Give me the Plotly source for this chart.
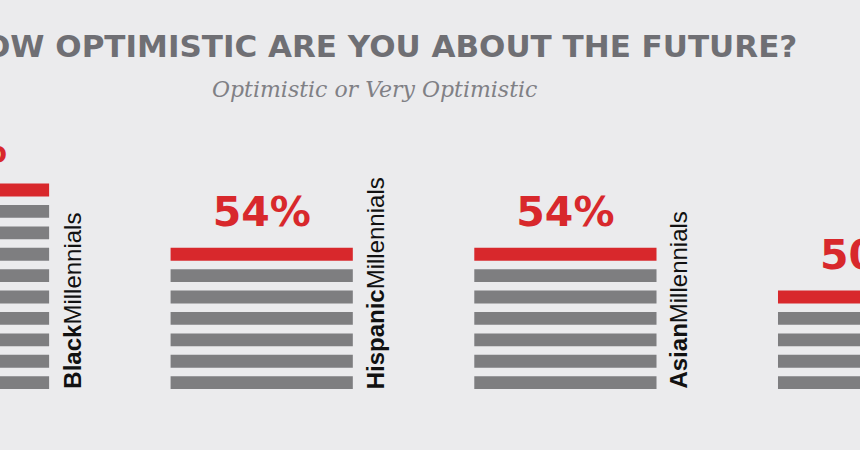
import plotly.graph_objects as go

# ---- data ----
groups = ["Black", "Hispanic", "Asian", "White"]
group_pos = [0, 1, 2, 3]
values = [64, 54, 54, 50]          # % optimistic or very optimistic (Black value cut off in reference)
bar_counts = [10, 7, 7, 5]         # number of stacked strips in each icon column
label_suffix = "Millennials"

title_text = "HOW OPTIMISTIC ARE YOU ABOUT THE FUTURE?"
subtitle_text = "Optimistic or Very Optimistic"

RED = "#d8282c"
GRAY = "#7e7e80"
BG = "#ebebed"
BAR_W = 0.6
BAR_H = 0.6
LABEL_GAP = 0.42

X0 = 0.1383
fig = go.Figure()

# gray strips
gx, gbase = [], []
for p, n in zip(group_pos, bar_counts):
    for k in range(n - 1):
        gx.append(p)
        gbase.append(k)
fig.add_trace(go.Bar(x=gx, y=[BAR_H] * len(gx), base=gbase, width=BAR_W,
                     marker=dict(color=GRAY, line=dict(width=0)),
                     hoverinfo="skip", showlegend=False))
# red top strip
fig.add_trace(go.Bar(x=group_pos, y=[BAR_H] * len(group_pos),
                     base=[n - 1 for n in bar_counts], width=BAR_W,
                     marker=dict(color=RED, line=dict(width=0)),
                     hoverinfo="skip", showlegend=False))
# invisible spacer bar carrying the percentage labels above each column
fig.add_trace(go.Bar(x=group_pos, y=[LABEL_GAP] * len(group_pos),
                     base=[n - 1 + BAR_H for n in bar_counts], width=BAR_W,
                     marker=dict(color="rgba(0,0,0,0)", line=dict(width=0)),
                     text=[f"<b>{v}%</b>" for v in values],
                     textposition="outside", constraintext="none",
                     outsidetextfont=dict(family="DejaVu Sans", size=41, color=RED),
                     hoverinfo="skip", showlegend=False))

annotations = []
for p, g in zip(group_pos, groups):
    if p + BAR_W / 2 < X0:
        continue
    annotations.append(dict(
        x=p + BAR_W / 2, y=0, xref="x", yref="y",
        text=f"<b>{g}</b>{label_suffix}", textangle=-90,
        showarrow=False, yanchor="bottom", xanchor="left", xshift=7, yshift=-2,
        font=dict(family="Liberation Sans", size=24, color="#111111")))

annotations.append(dict(
    x=377 / 860, y=1 - 46 / 450, xref="paper", yref="paper", text=f"<b>{title_text}</b>",
    showarrow=False, xanchor="center", yanchor="middle",
    font=dict(family="DejaVu Sans", size=31, color="#6f6f74")))
annotations.append(dict(
    x=374 / 860, y=1 - 89 / 450, xref="paper", yref="paper", text=f"<i>{subtitle_text}</i>",
    showarrow=False, xanchor="center", yanchor="middle",
    font=dict(family="DejaVu Serif", size=22, color="#808085")))

fig.update_layout(
    width=860, height=450,
    margin=dict(l=0, r=0, t=0, b=0),
    paper_bgcolor=BG, plot_bgcolor=BG,
    barmode="overlay",
    xaxis=dict(range=[X0, X0 + 860 / 303.7], visible=False, fixedrange=True),
    yaxis=dict(range=[18.18 - 450 / 21.4, 18.18], visible=False, fixedrange=True),
    annotations=annotations,
)

fig.write_html("out.html")
